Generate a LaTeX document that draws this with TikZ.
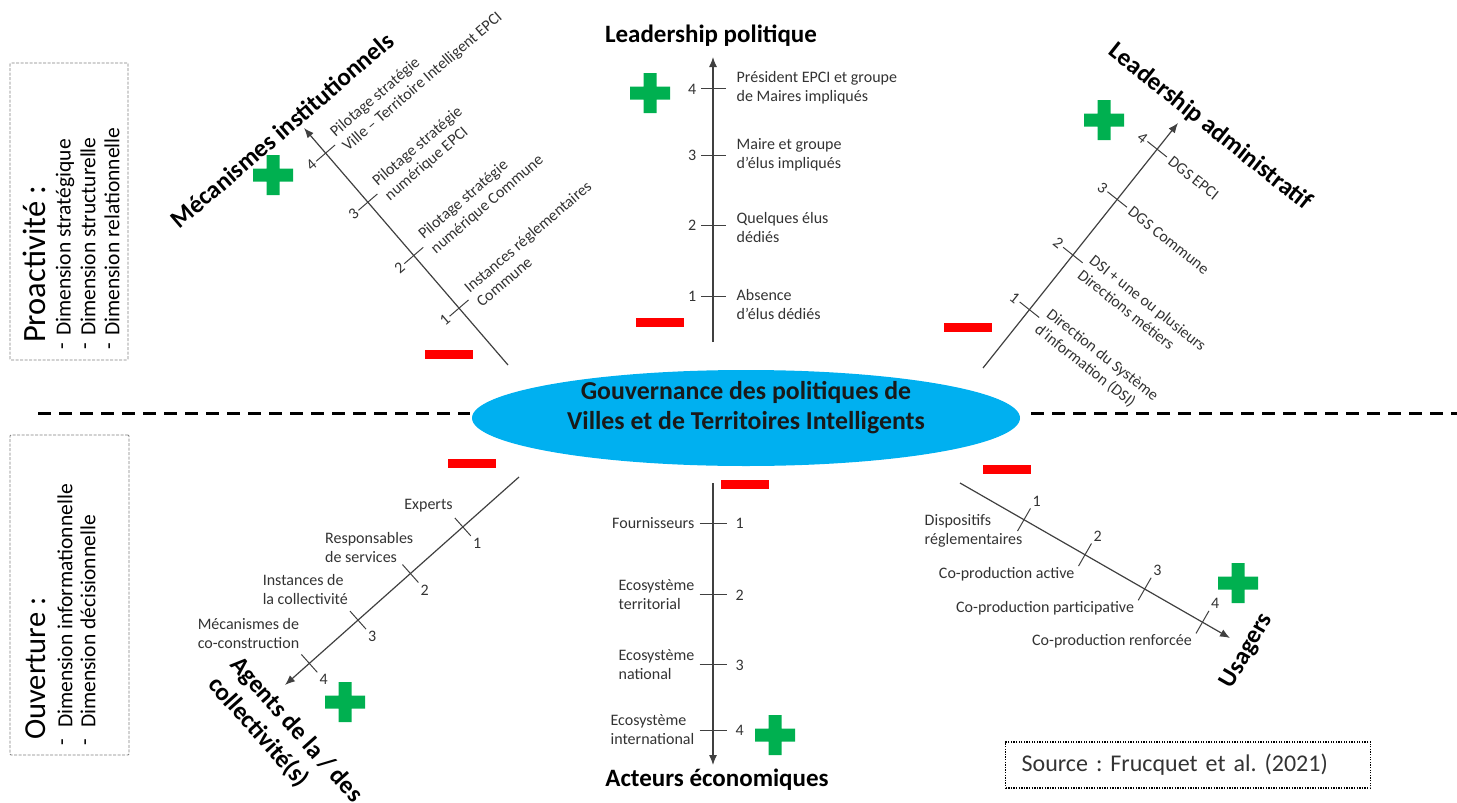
\documentclass[tikz,border=0pt]{standalone}
\usepackage{fontspec}
\setmainfont{Carlito}
\usetikzlibrary{arrows.meta,calc,shapes.geometric}
\definecolor{govblue}{HTML}{00B0F0}
\definecolor{plusgreen}{HTML}{00B050}
\definecolor{minusred}{HTML}{FF0000}
\definecolor{axisgray}{HTML}{404040}
\definecolor{txtgray}{HTML}{333333}
\definecolor{boxgray}{HTML}{808080}
\frenchspacing
\begin{document}
\begin{tikzpicture}[x=1pt,y=-1pt,
  axisline/.style={draw=axisgray,line width=1.2pt,-{Latex[length=10pt,width=8pt]}},
  tickline/.style={draw=axisgray,line width=1pt},
  lbl/.style={font=\fontsize{16}{19}\selectfont,text=txtgray,inner sep=1pt,align=left},
  num/.style={font=\fontsize{16}{19}\selectfont,text=txtgray,inner sep=2pt},
  ttl/.style={font=\bfseries\fontsize{25}{30}\selectfont,inner sep=0pt,align=left},
  dimtxt/.style={font=\fontsize{21.5}{26}\selectfont,text=black,inner sep=0pt,rotate=90,anchor=west},
  bullet/.style={font=\fontsize{21.5}{26}\selectfont,text=black,inner sep=0pt,rotate=90},
  sidettl/.style={inner sep=0pt,rotate=90,anchor=west},
  sidebox/.style={draw=boxgray,line width=0.9pt,dash pattern=on 3pt off 1.5pt,rounded corners=1pt,inner sep=0pt},
  sepline/.style={black,line width=3pt,dash pattern=on 13pt off 8pt},
  plussign/.pic={\fill[plusgreen] (-20,-6.5) rectangle (20,6.5) (-6.5,-20) rectangle (6.5,20);},
  minussign/.pic={\fill[minusred] (-24,-4.5) rectangle (24,4.5);}
]
\useasboundingbox (0,0) rectangle (1457,803);

% separator
\coordinate (sepL1) at (38,413); \coordinate (sepL2) at (470,413);
\coordinate (sepR1) at (1031,413); \coordinate (sepR2) at (1457,413);
\draw[sepline] (sepL1) -- (sepL2);
\draw[sepline] (sepR1) -- (sepR2);

% central ellipse
\node[ellipse,fill=govblue,minimum width=548pt,minimum height=96pt,inner sep=0pt] (gov) at (746,418) {};
\node[font=\bfseries\fontsize{25.8}{30}\selectfont,align=center,text=black!90,inner sep=0pt] (govtxt) at (746,408)
  {Gouvernance des politiques de\\Villes et de Territoires Intelligents};

% axes
\coordinate (M-s) at (508,365); \coordinate (M-e) at (304,128);
\coordinate (R-s) at (983,368); \coordinate (R-e) at (1178,123);
\coordinate (G-s) at (519,477); \coordinate (G-e) at (285,685);
\coordinate (U-s) at (960,483); \coordinate (U-e) at (1230,638);
\coordinate (P-s) at (713,342); \coordinate (P-e) at (713,57);
\coordinate (A-s) at (713,483); \coordinate (A-e) at (713,765);

\foreach \ax/\fa/\fb/\fc/\fd/\h in {M/0.24/0.462/0.687/0.894/12.5pt,
    R/0.238/0.461/0.688/0.893/12.5pt, G/0.24/0.464/0.688/0.896/12pt,
    U/0.237/0.463/0.684/0.898/13pt, P/0.161/0.41/0.656/0.888/12.5pt,
    A/0.142/0.397/0.645/0.876/13.5pt}{
  \draw[axisline] (\ax-s) -- (\ax-e);
  \foreach \i/\f in {1/\fa,2/\fb,3/\fc,4/\fd}{
    \coordinate (\ax-t\i) at ($(\ax-s)!\f!(\ax-e)$);
    \coordinate (\ax-l\i) at ($(\ax-t\i)!\h!-90:(\ax-e)$);
    \coordinate (\ax-n\i) at ($(\ax-t\i)!\h!90:(\ax-e)$);
    \draw[tickline] (\ax-l\i) -- (\ax-n\i);
  }
}

% numbers
\foreach \i in {1,...,4}{
  \node[num,rotate=40.7,anchor=east] (M-num\i) at (M-n\i) {\i};
  \node[num,rotate=-38.5,anchor=east] (R-num\i) at (R-n\i) {\i};
  \node[num,anchor=north west] (G-num\i) at (G-n\i) {\i};
  \node[num,anchor=south west] (U-num\i) at (U-n\i) {\i};
  \node[num,anchor=east,xshift=-2pt] (P-num\i) at (P-n\i) {\i};
  \node[num,anchor=west,xshift=7pt] (A-num\i) at (A-n\i) {\i};
}

% Mecanismes institutionnels labels
\node[lbl,rotate=40.7,anchor=west,inner xsep=5pt] (M-lab1) at (M-l1) {Instances réglementaires\\Commune};
\node[lbl,rotate=40.7,anchor=west,inner xsep=5pt] (M-lab2) at (M-l2) {Pilotage stratégie\\numérique Commune};
\node[lbl,rotate=40.7,anchor=west,inner xsep=5pt] (M-lab3) at (M-l3) {Pilotage stratégie\\numérique EPCI};
\node[lbl,rotate=40.7,anchor=west,inner xsep=5pt] (M-lab4) at (M-l4) {Pilotage stratégie\\Ville – Territoire Intelligent EPCI};

% Leadership administratif labels
\node[lbl,rotate=-38.5,anchor=west,inner xsep=4pt] (R-lab1) at (R-l1) {Direction du Système\\d’information (DSI)};
\node[lbl,rotate=-38.5,anchor=west,inner xsep=4pt] (R-lab2) at (R-l2) {DSI + une ou plusieurs\\Directions métiers};
\node[lbl,rotate=-38.5,anchor=west,inner xsep=4pt] (R-lab3) at (R-l3) {DGS Commune};
\node[lbl,rotate=-38.5,anchor=west,inner xsep=4pt] (R-lab4) at (R-l4) {DGS EPCI};

% Agents labels
\node[lbl,anchor=south east,xshift=-1pt,yshift=5pt] (G-lab1) at (G-l1) {Experts};
\node[lbl,anchor=south east,xshift=12pt,yshift=1pt] (G-lab2) at (G-l2) {Responsables\\de services};
\node[lbl,anchor=south east,xshift=-1pt,yshift=5pt] (G-lab3) at (G-l3) {Instances de\\la collectivité};
\node[lbl,anchor=south east,xshift=-1pt,yshift=5pt] (G-lab4) at (G-l4) {Mécanismes de\\co-construction};

% Usagers labels
\node[lbl,anchor=east,xshift=6pt] (U-lab1) at (U-l1) {Dispositifs\\réglementaires};
\node[lbl,anchor=north east,xshift=-3pt] (U-lab2) at (U-l2) {Co-production active};
\node[lbl,anchor=north east,xshift=-3pt] (U-lab3) at (U-l3) {Co-production participative};
\node[lbl,anchor=north east,xshift=-3pt] (U-lab4) at (U-l4) {Co-production renforcée};

% Leadership politique labels
\node[lbl,anchor=west,xshift=10pt,yshift=-8pt] (P-lab1) at (P-l1) {Absence\\d’élus dédiés};
\node[lbl,anchor=west,xshift=10pt,yshift=-2pt] (P-lab2) at (P-l2) {Quelques élus\\dédiés};
\node[lbl,anchor=west,xshift=10pt] (P-lab3) at (P-l3) {Maire et groupe\\d’élus impliqués};
\node[lbl,anchor=west,xshift=10pt,yshift=1pt] (P-lab4) at (P-l4) {Président EPCI et groupe\\de Maires impliqués};

% Acteurs economiques labels
\node[lbl,anchor=east,xshift=-4pt] (A-lab1) at (A-l1) {Fournisseurs};
\node[lbl,anchor=east,xshift=-4pt] (A-lab2) at (A-l2) {Ecosystème\\territorial};
\node[lbl,anchor=east,xshift=-4pt] (A-lab3) at (A-l3) {Ecosystème\\national};
\node[lbl,anchor=east,xshift=-4pt] (A-lab4) at (A-l4) {Ecosystème\\international};

% titles
\node[ttl] (P-ttl) at (711,36) {Leadership politique};
\node[ttl] (A-ttl) at (717,780) {Acteurs économiques};
\node[ttl,rotate=40.7] (M-ttl) at (282,130) {Mécanismes institutionnels};
\node[ttl,rotate=-38.5] (R-ttl) at (1210,127) {Leadership administratif};
\node[ttl,rotate=60] (U-ttl) at (1247,651) {Usagers};
\node[ttl,rotate=-48.2] (G-ttl) at (285,740) {Agents de la / des\\collectivité(s)};

% plus / minus signs
\pic at (273,175) {plussign};  \pic at (449,354) {minussign};
\pic at (650,93) {plussign};   \pic at (660,322) {minussign};
\pic at (1104,120) {plussign}; \pic at (968,327) {minussign};
\pic at (345,702) {plussign};  \pic at (472,463) {minussign};
\pic at (775,735) {plussign};  \pic at (745,484) {minussign};
\pic at (1238,583) {plussign}; \pic at (1007,469) {minussign};

% side boxes
\node[sidebox,minimum width=118pt,minimum height=297pt] (proabox) at (69,211.5) {};
\node[sidettl,font=\fontsize{32.5}{38}\selectfont] (proattl) at (34,343) {Proactivité :};
\node[bullet] (proab1) at (65,346) {-};
\node[bullet] (proab2) at (88,346) {-};
\node[bullet] (proab3) at (112,346) {-};
\node[dimtxt] (proad1) at (65,336) {Dimension stratégique};
\node[dimtxt] (proad2) at (88,336) {Dimension structurelle};
\node[dimtxt] (proad3) at (112,336) {Dimension relationnelle};

\node[sidebox,minimum width=119pt,minimum height=320pt] (ouvbox) at (69.5,595) {};
\node[sidettl,font=\fontsize{30.5}{36}\selectfont] (ouvttl) at (36,740) {Ouverture :};
\node[bullet] (ouvb1) at (65,742) {-};
\node[bullet] (ouvb2) at (88,742) {-};
\node[dimtxt] (ouvd1) at (65,728) {Dimension informationnelle};
\node[dimtxt] (ouvd2) at (88,728) {Dimension décisionnelle};

% source
\node[draw,line width=1.3pt,dash pattern=on 1.3pt off 1.3pt,anchor=west,text width=333pt,inner xsep=16pt,
  align=left,minimum height=46pt,font=\fontsize{24}{28}\selectfont,text=txtgray] (src) at (1005,765)
  {Source : Frucquet et al. (2021)};
\end{tikzpicture}
\end{document}
